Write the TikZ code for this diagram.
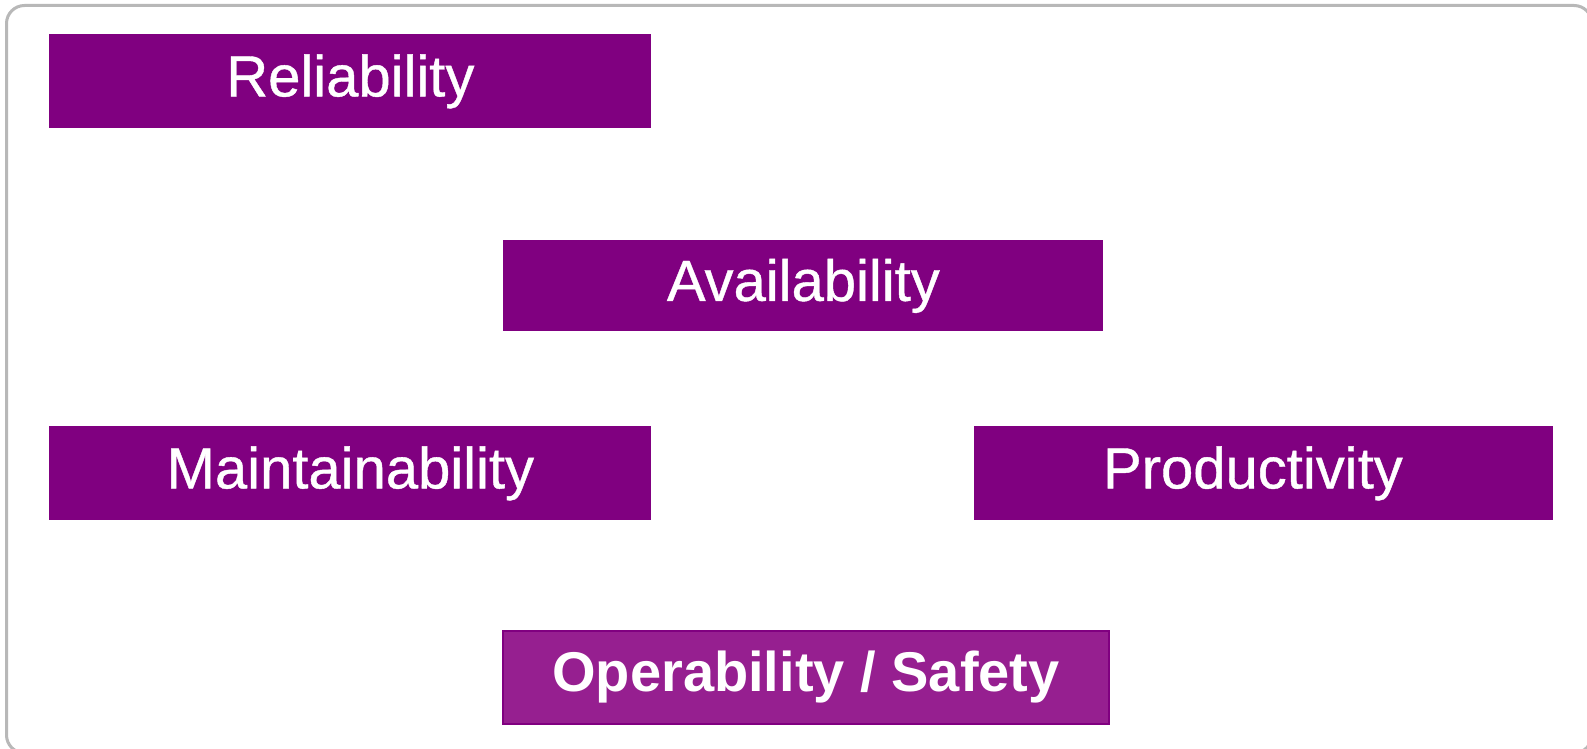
\documentclass[tikz,border=0pt]{standalone}
\usepackage{fontspec}
\setmainfont{Liberation Sans}
% slightly heavier regular weight for the item labels
\newfontfamily\itemfont[FakeBold=0.7]{Liberation Sans}
\begin{document}
\definecolor{boxpurple}{RGB}{128,0,128}
\definecolor{lightpurple}{RGB}{150,31,144}
\definecolor{framegray}{RGB}{184,184,184}
\begin{tikzpicture}[x=0.5pt,y=-0.5pt,
  item/.style={fill=boxpurple, text=white, inner sep=0pt, anchor=north west,
    font=\itemfont\fontsize{29pt}{32pt}\selectfont},
  safetybox/.style={item, fill=lightpurple, draw=boxpurple, line width=1pt,
    font=\rmfamily\fontsize{28pt}{31pt}\selectfont\bfseries}]
  \useasboundingbox (0,0) rectangle (1587,749);
  \fill[white] (0,0) rectangle (1587,749);
  % outer frame, running off the right and bottom edges
  \begin{scope}
    \clip (0,0) rectangle (1587,749);
    \draw[framegray, line width=1.5pt, rounded corners=9pt] (6.5,5.5) rectangle (1592,753);
  \end{scope}
  \node[item, minimum width=301pt, minimum height=47pt] (rel) at (49,34) {Reliability};
  \node[item, minimum width=300pt, minimum height=45.5pt] (avail) at (503,240) {Availability};
  \node[item, minimum width=301pt, minimum height=47pt] (maint) at (49,426) {Maintainability};
  \node[item, minimum width=289.5pt, minimum height=47pt, text width=289.5pt, align=center] (prod) at (974,426) {\hspace*{-11pt}Productivity};
  \node[safetybox, minimum width=303pt, minimum height=46.5pt] (safe) at (502,630) {Operability / Safety};
\end{tikzpicture}
\end{document}
